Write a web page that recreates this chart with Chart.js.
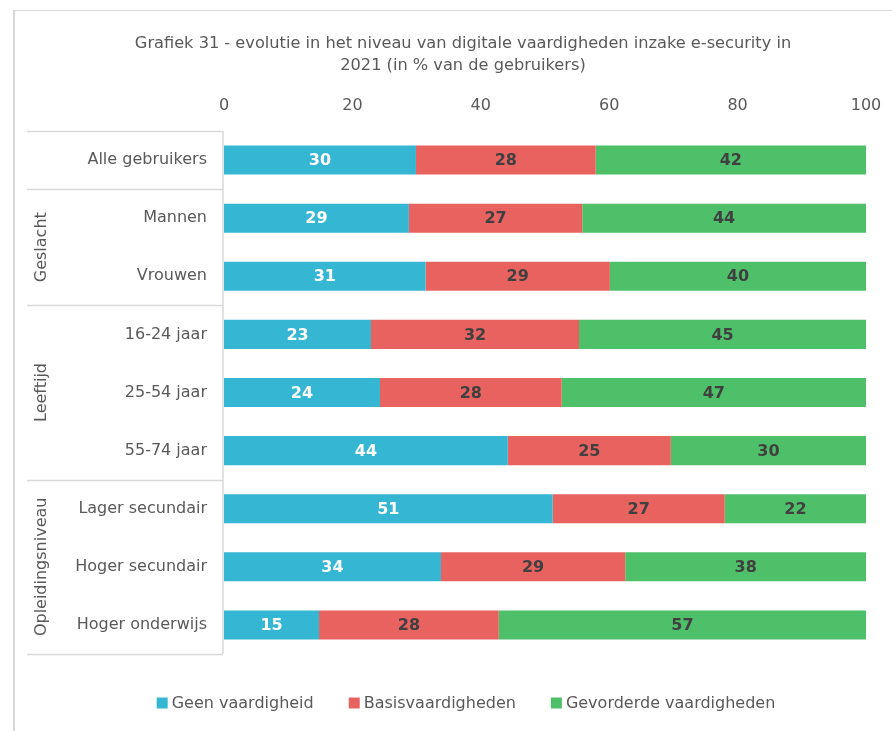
<!DOCTYPE html>
<html>
<head>
<meta charset="utf-8">
<script src="https://cdn.jsdelivr.net/npm/chart.js@4/dist/chart.umd.min.js"></script>
<style>
  html, body { margin: 0; padding: 0; background: #fff; }
  #wrap { width: 892px; height: 731px; position: relative; }
</style>
</head>
<body>
<div id="wrap"><canvas id="chart"></canvas></div>
<script>
const categories = ['Alle gebruikers', 'Mannen', 'Vrouwen', '16-24 jaar', '25-54 jaar', '55-74 jaar',
  'Lager secundair', 'Hoger secundair', 'Hoger onderwijs'];
const groupNames = ['', 'Geslacht', 'Leeftijd', 'Opleidingsniveau'];
const groupSizes = [1, 2, 3, 3];

const geenValues = [29.9, 28.8, 31.4, 22.9, 24.3, 44.2, 51.2, 33.8, 14.8];
const basisValues = [28.0, 27.0, 28.7, 32.4, 28.3, 25.4, 26.8, 28.7, 28.0];
const gevorderdValues = [42.1, 44.2, 39.9, 44.7, 47.4, 30.4, 22.0, 37.5, 57.2];

const xTicks = [0, 20, 40, 60, 80, 100];

const titleLines = ['Grafiek 31 - evolutie in het niveau van digitale vaardigheden inzake e-security in',
  '2021 (in % van de gebruikers)'];

const FONT = "'DejaVu Sans', Verdana, sans-serif";
const lineColor = '#d9d9d9';
const textColor = '#595959';

// frame, title, label box, group labels (Excel style multi-level axis) and legend
const framePlugin = {
  id: 'frame',
  beforeDraw(chart) {
    const ctx = chart.ctx;
    ctx.save();
    ctx.fillStyle = lineColor;
    ctx.fillRect(13, 10, 2, chart.height - 10);
    ctx.fillRect(13, 10, chart.width - 13, 1);

    ctx.fillStyle = textColor;
    ctx.font = '16.2px ' + FONT;
    ctx.textAlign = 'center';
    ctx.textBaseline = 'middle';
    titleLines.forEach((t, i) => ctx.fillText(t, 463, 44 + i * 22));
    ctx.restore();
  },
  afterDraw(chart) {
    const ctx = chart.ctx;
    const area = chart.chartArea;
    const step = (area.bottom - area.top) / categories.length;
    const left = 27;
    ctx.save();
    ctx.strokeStyle = lineColor;
    ctx.lineWidth = 1.5;
    ctx.beginPath();
    ctx.moveTo(area.left - 1, area.top);
    ctx.lineTo(area.left - 1, area.bottom);
    let idx = 0;
    const bounds = [0];
    groupSizes.forEach(n => { idx += n; bounds.push(idx); });
    bounds.forEach(b => {
      const py = Math.round(area.top + b * step) + 0.5;
      ctx.moveTo(left, py);
      ctx.lineTo(area.left - 1, py);
    });
    ctx.stroke();

    ctx.fillStyle = textColor;
    ctx.font = '16px ' + FONT;
    ctx.textAlign = 'center';
    ctx.textBaseline = 'middle';
    groupNames.forEach((name, i) => {
      if (!name) return;
      const cy = area.top + (bounds[i] + bounds[i + 1]) / 2 * step;
      ctx.save();
      ctx.translate(42, cy);
      ctx.rotate(-Math.PI / 2);
      ctx.fillText(name, 0, 0);
      ctx.restore();
    });

    // legend
    const box = 11, gap = 4, spacing = 35;
    const items = chart.data.datasets.map(ds => ({
      label: ds.label, color: ds.backgroundColor, w: box + gap + ctx.measureText(ds.label).width
    }));
    const total = items.reduce((s, it) => s + it.w, 0) + spacing * (items.length - 1);
    let x = 466 - total / 2;
    const ly = 703;
    ctx.textAlign = 'left';
    items.forEach(it => {
      ctx.fillStyle = it.color;
      ctx.fillRect(x, ly - box / 2, box, box);
      ctx.fillStyle = textColor;
      ctx.fillText(it.label, x + box + gap, ly + 1);
      x += it.w + spacing;
    });
    ctx.restore();
  }
};

const labelPlugin = {
  id: 'barLabels',
  afterDatasetsDraw(chart) {
    const ctx = chart.ctx;
    ctx.save();
    ctx.font = 'bold 16px ' + FONT;
    ctx.textAlign = 'center';
    ctx.textBaseline = 'middle';
    chart.data.datasets.forEach((ds, di) => {
      const meta = chart.getDatasetMeta(di);
      meta.data.forEach((bar, i) => {
        const p = bar.getProps(['x', 'y', 'base'], true);
        ctx.fillStyle = di === 0 ? '#ffffff' : '#404040';
        ctx.fillText(String(Math.round(ds.data[i])), (p.x + p.base) / 2, p.y + 1);
      });
    });
    ctx.restore();
  }
};

new Chart(document.getElementById('chart'), {
  type: 'bar',
  data: {
    labels: categories,
    datasets: [
      { label: 'Geen vaardigheid', data: geenValues, backgroundColor: '#35b6d2' },
      { label: 'Basisvaardigheden', data: basisValues, backgroundColor: '#e8625f' },
      { label: 'Gevorderde vaardigheden', data: gevorderdValues, backgroundColor: '#4fc06a' }
    ]
  },
  options: {
    indexAxis: 'y',
    responsive: true,
    maintainAspectRatio: false,
    animation: false,
    barPercentage: 0.5,
    categoryPercentage: 1,
    layout: { padding: { left: 0, right: 26, top: 77, bottom: 77 } },
    plugins: {
      title: { display: false },
      legend: { display: false },
      tooltip: { enabled: false }
    },
    scales: {
      x: {
        position: 'top',
        stacked: true,
        min: 0,
        max: 100,
        afterBuildTicks: scale => { scale.ticks = xTicks.map(v => ({ value: v })); },
        afterFit: scale => {
          scale.height = 54;
          scale.paddingLeft = 0;
          scale.paddingRight = 0;
        },
        grid: { display: false, drawTicks: false },
        border: { display: false },
        ticks: { color: textColor, font: { family: FONT, size: 16 }, padding: 16 }
      },
      y: {
        stacked: true,
        afterFit: scale => { scale.width = 224; },
        grid: { display: false, drawTicks: false },
        border: { display: false },
        ticks: { color: textColor, font: { family: FONT, size: 16 }, padding: 17 }
      }
    }
  },
  plugins: [framePlugin, labelPlugin]
});
</script>
</body>
</html>
